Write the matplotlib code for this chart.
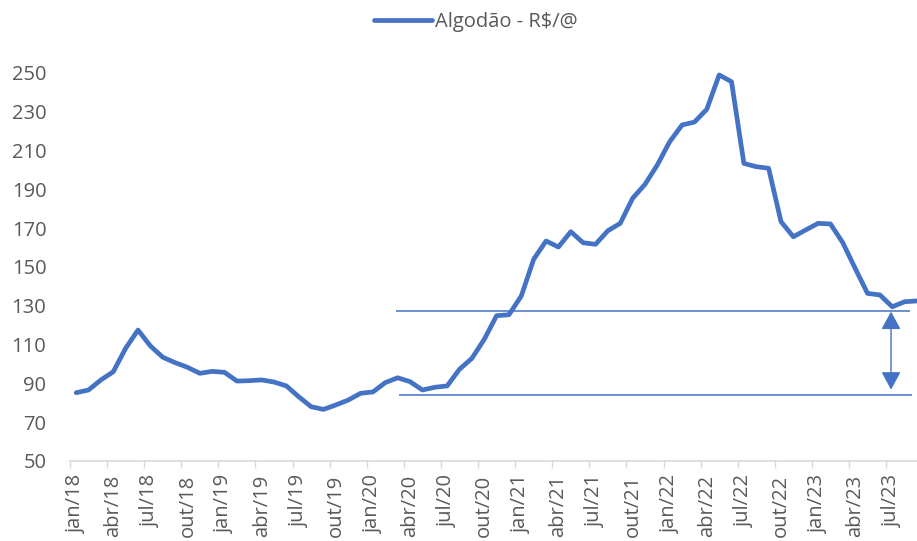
import matplotlib
matplotlib.use("Agg")
import matplotlib.pyplot as plt
import numpy as np

months = ["jan", "fev", "mar", "abr", "mai", "jun", "jul", "ago", "set", "out", "nov", "dez"]
years = ["18", "19", "20", "21", "22", "23"]
dates = [f"{m}/{y}" for y in years for m in months][:69]  # jan/18 .. set/23

prices = [85.2, 86.6, 91.8, 96.0, 108.1, 117.5, 109.3, 103.5, 100.7, 98.3, 95.2, 96.2,
          95.7, 91.2, 91.4, 91.8, 90.7, 88.7, 83.1, 78.0, 76.6, 78.9, 81.4, 84.9,
          85.6, 90.4, 92.9, 90.9, 86.6, 88.0, 88.7, 97.3, 102.9, 112.7, 124.9, 125.4,
          135.1, 154.0, 163.4, 160.3, 168.2, 162.5, 161.7, 168.7, 172.5, 185.4, 192.6, 202.6,
          214.6, 223.2, 224.7, 231.3, 249.0, 245.5, 203.4, 201.7, 200.9, 173.4, 165.6, 169.1,
          172.5, 172.2, 162.5, 149.3, 136.4, 135.6, 129.5, 132.1, 132.5]

series_name = "Algodão - R$/@"
upper_level = 127.5
lower_level = 84.0
upper_span = (25.9, 67.4)
lower_span = (26.1, 67.6)
arrow_x = 65.9

yticks = list(range(50, 251, 20))

color = "#4472C4"
text_color = "#595959"
font = ["Open Sans", "DejaVu Sans"]
plt.rcParams["font.family"] = font

W, H = 917, 541
fig = plt.figure(figsize=(W / 100, H / 100), dpi=100)
ax = fig.add_axes([70 / W, (H - 461) / H, (917 - 70) / W, (461 - 73) / H])

x = np.arange(len(prices))
line, = ax.plot(x, prices, color=color, lw=3.4, solid_joinstyle="round",
                solid_capstyle="round", label=series_name, clip_on=False, zorder=3)

ax.hlines(upper_level, *upper_span, color=color, lw=1.1, zorder=2)
ax.hlines(lower_level, *lower_span, color=color, lw=1.1, zorder=2)
ax.annotate("", xy=(arrow_x, lower_level + 2.8), xytext=(arrow_x, upper_level - 0.5),
            arrowprops=dict(arrowstyle="<|-|>,head_width=0.3,head_length=0.55",
                            mutation_scale=20, color=color, lw=1.0,
                            shrinkA=0, shrinkB=0))

tick_idx = list(range(0, len(dates), 3))
ax.set_xticks([i - 0.5 for i in tick_idx])
ax.set_xticklabels([])
ax.set_xticks(tick_idx, minor=True)
ax.set_xticklabels([dates[i] for i in tick_idx], minor=True, rotation=90)
ax.tick_params(axis="x", which="major", length=5, color="#D9D9D9", width=1)
ax.tick_params(axis="x", which="minor", length=0, pad=10, labelsize=14.5,
               labelcolor=text_color)
for lab in ax.get_xticklabels(minor=True):
    lab.set_va("top")

ax.set_yticks(yticks)
ax.set_yticklabels([str(v) for v in yticks])
ax.tick_params(axis="y", length=0, pad=17, labelsize=14.5, labelcolor=text_color)

ax.set_xlim(-0.5, 68.0)
ax.set_ylim(50, 250)

for s in ["top", "right", "left"]:
    ax.spines[s].set_visible(False)
ax.spines["bottom"].set_color("#D9D9D9")
ax.spines["bottom"].set_linewidth(1.2)

fig.legend(handles=[line], loc="center", bbox_to_anchor=(476 / W, 1 - 22 / H),
           frameon=False, fontsize=14.5, handlelength=2.9, handletextpad=0.15,
           labelcolor=text_color)

fig.savefig("out.png", dpi=100)
